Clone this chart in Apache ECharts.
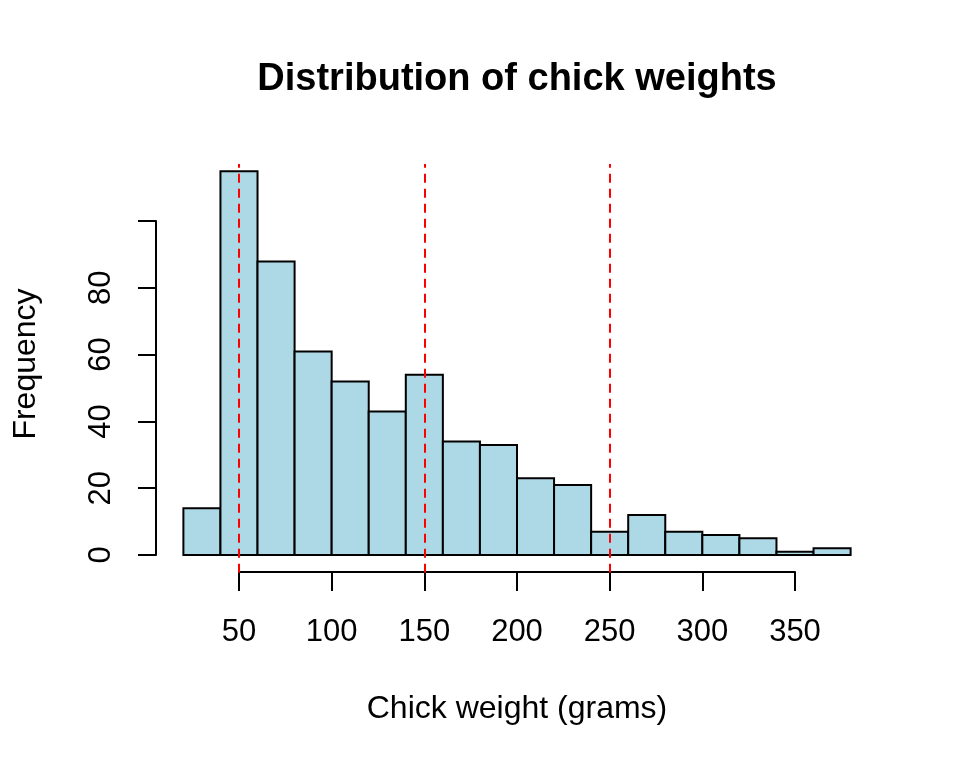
<!DOCTYPE html>
<html>
<head>
<meta charset="utf-8">
<script src="https://cdn.jsdelivr.net/npm/echarts@6/dist/echarts.min.js"></script>
<style>html,body{margin:0;padding:0;background:#fff}#c{width:960px;height:768px}</style>
</head>
<body>
<div id="c"></div>
<script>
// Histogram bins (grams) and counts
var binStarts = [20, 40, 60, 80, 100, 120, 140, 160, 180, 200, 220, 240, 260, 280, 300, 320, 340, 360];
var binWidth = 20;
var counts = [14, 115, 88, 61, 52, 43, 54, 34, 33, 23, 21, 7, 12, 7, 6, 5, 1, 2];
var refLines = [50, 150, 250];
var xTicks = [50, 100, 150, 200, 250, 300, 350];
var yTicks = [0, 20, 40, 60, 80, 100];

var titleText = 'Distribution of chick weights';
var xTitle = 'Chick weight (grams)';
var yTitle = 'Frequency';

var FONT = 'Liberation Sans, Arial, sans-serif';
var chart = echarts.init(document.getElementById('c'), null, {renderer: 'canvas'});

var binData = binStarts.map(function (s, i) { return [s, s + binWidth, counts[i]]; });

var option = {
  animation: false,
  backgroundColor: '#ffffff',
  grid: [
    {left: 156.7, right: 82.7, top: 164, bottom: 195.3},
    {left: 239, right: 165, top: 500, bottom: 196},
    {left: 156, right: 700, top: 221, bottom: 213}
  ],
  xAxis: [
    {type: 'value', gridIndex: 0, min: 5.6, max: 394.4, show: false},
    {type: 'value', gridIndex: 1, min: xTicks[0], max: xTicks[xTicks.length - 1], interval: 50,
      axisLine: {show: true, lineStyle: {color: '#000', width: 2}},
      axisTick: {show: true, length: 19, lineStyle: {color: '#000', width: 2}},
      axisLabel: {show: true, color: '#000', fontSize: 31, fontFamily: FONT, margin: 45},
      splitLine: {show: false}},
    {type: 'value', gridIndex: 2, show: false}
  ],
  yAxis: [
    {type: 'value', gridIndex: 0, min: -5.3, max: 117.2, show: false},
    {type: 'value', gridIndex: 1, show: false},
    {type: 'value', gridIndex: 2, min: yTicks[0], max: yTicks[yTicks.length - 1], interval: 20,
      axisLine: {show: true, lineStyle: {color: '#000', width: 2}},
      axisTick: {show: true, length: 18, lineStyle: {color: '#000', width: 2}},
      axisLabel: {show: true, color: '#000', fontSize: 31, fontFamily: FONT, rotate: 90, margin: 39,
        formatter: function (v) { return v === 100 ? '' : String(v); }},
      splitLine: {show: false}}
  ],
  series: [
    {
      type: 'custom',
      xAxisIndex: 0, yAxisIndex: 0,
      data: binData,
      encode: {x: [0, 1], y: 2},
      renderItem: function (params, api) {
        var p0 = api.coord([api.value(0), 0]);
        var p1 = api.coord([api.value(1), api.value(2)]);
        return {
          type: 'rect',
          shape: {x: p0[0], y: p1[1], width: p1[0] - p0[0], height: p0[1] - p1[1]},
          style: {fill: '#ADD8E6', stroke: '#000', lineWidth: 2}
        };
      },
      markLine: {
        silent: true,
        symbol: ['none', 'none'],
        label: {show: false},
        lineStyle: {color: '#FF0000', width: 2, type: [9, 6]},
        data: refLines.map(function (v) { return {xAxis: v}; })
      },
      z: 2
    }
  ],
  graphic: [
    {type: 'text', x: 517, y: 80, style: {text: titleText, fontSize: 38, fontWeight: 'bold', fontFamily: FONT, fill: '#000', textAlign: 'center', textVerticalAlign: 'middle'}},
    {type: 'text', x: 517, y: 709, style: {text: xTitle, fontSize: 32, fontFamily: FONT, fill: '#000', textAlign: 'center', textVerticalAlign: 'middle'}},
    {type: 'text', x: 26, y: 364, rotation: Math.PI / 2, style: {text: yTitle, fontSize: 32, fontFamily: FONT, fill: '#000', textAlign: 'center', textVerticalAlign: 'middle'}}
  ]
};
chart.setOption(option);
</script>
</body>
</html>
